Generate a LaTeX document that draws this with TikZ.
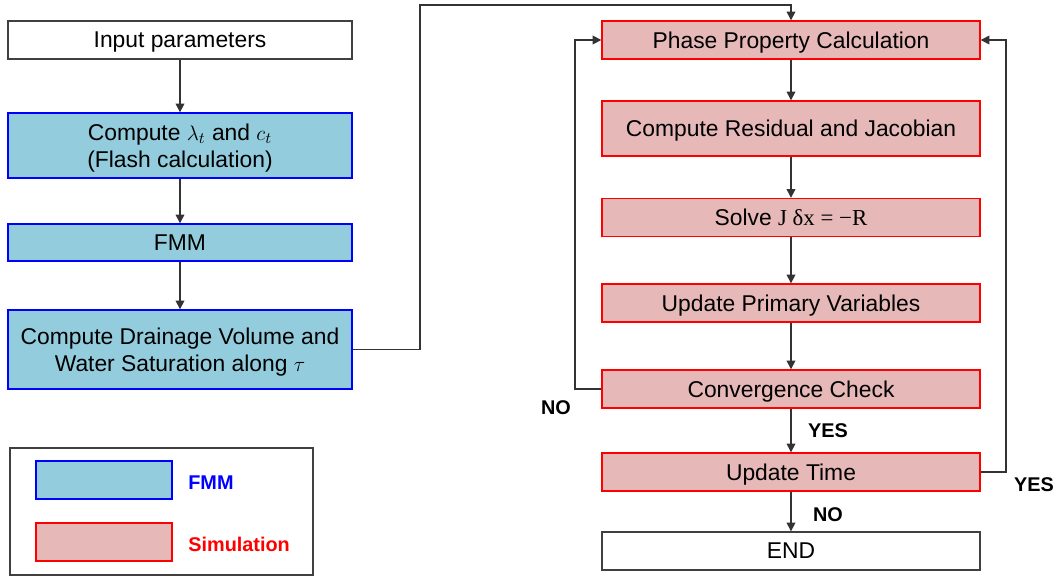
\documentclass[tikz,border=0pt]{standalone}
\usepackage{fontspec}
\setmainfont{Liberation Sans}
\newfontfamily\eqfont{Liberation Serif}
\usepackage{xcolor}
\usepackage{tikz}
\usetikzlibrary{arrows.meta}
\definecolor{fmmfill}{HTML}{93CDDD}
\definecolor{simfill}{HTML}{E6B9B8}
\tikzstyle{every node}=[font=\fontsize{13}{15.5}\selectfont,inner sep=0pt]
\tikzstyle{fmmbox}=[draw=blue,fill=fmmfill,thick,minimum width=6.88cm,align=center,text depth=0pt]
\tikzstyle{simbox}=[draw=red,fill=simfill,thick,minimum width=7.56cm,minimum height=0.76cm,align=center,text depth=0pt]
\tikzstyle{plainbox}=[draw=black!75,thick,fill=white,align=center,text depth=0pt]
\tikzstyle{flow}=[draw=black!80,thick,-{Triangle[length=5pt,width=5pt]}]
\tikzstyle{answer}=[font=\fontsize{11.3}{13}\selectfont\bfseries]

\begin{document}
\begin{tikzpicture}[x=0.02cm,y=-0.02cm]
	\useasboundingbox (0,0) rectangle (1058,579);
	% left column: FMM part
	\node[plainbox,minimum width=6.88cm,minimum height=0.76cm] (input) at (180,40) {Input parameters};
	\node[fmmbox,minimum height=1.3cm] (flash) at (180,145.5) {Compute $\lambda_t$ and $c_t$\\(Flash calculation)};
	\node[fmmbox,minimum height=0.74cm] (fmm) at (180,242.5) {FMM};
	\node[fmmbox,minimum height=1.58cm] (drain) at (180,349.5) {Compute Drainage Volume and\\Water Saturation along $\tau$};
	% right column: simulation loop
	\node[simbox] (phase) at (791,40) {Phase Property Calculation};
	\node[simbox,minimum height=1.1cm] (resid) at (791,128.5) {Compute Residual and Jacobian};
	\node[simbox] (solve) at (791,217.5) {Solve {\eqfont J δx = −R}};
	\node[simbox] (update) at (791,303) {Update Primary Variables};
	\node[simbox] (conv) at (791,389) {Convergence Check};
	\node[simbox] (time) at (791,472) {Update Time};
	\node[plainbox,minimum width=7.56cm,minimum height=0.76cm] (end) at (791,551) {END};
	% connectors
	\draw[flow] (input) -- (flash);
	\draw[flow] (flash) -- (fmm);
	\draw[flow] (fmm) -- (drain);
	\draw[flow] (drain.east) -- (420,349.5) -- (420,5) -| (phase.north);
	\draw[flow] (phase) -- (resid);
	\draw[flow] (resid) -- (solve);
	\draw[flow] (solve) -- (update);
	\draw[flow] (update) -- (conv);
	\draw[flow] (conv.west) -- (575,389) |- (phase.west);
	\draw[flow] (conv) -- (time);
	\draw[flow] (time.east) -- (1006,472) |- (phase.east);
	\draw[flow] (time) -- (end);
	\node[answer] (no1) at (556,408) {NO};
	\node[answer] (yes1) at (828,431) {YES};
	\node[answer] (yes2) at (1034,485) {YES};
	\node[answer] (no2) at (828,515) {NO};
	% legend
	\node[draw=black!75,thick,minimum width=6.06cm,minimum height=2.54cm] (legend) at (161.5,511.5) {};
	\node[draw=blue,fill=fmmfill,thick,minimum width=2.72cm,minimum height=0.76cm] (keyfmm) at (104,480) {};
	\node[draw=red,fill=simfill,thick,minimum width=2.72cm,minimum height=0.76cm] (keysim) at (104,542) {};
	\node[answer,text=blue,anchor=west] (labfmm) at (188,483) {FMM};
	\node[answer,text=red,anchor=west] (labsim) at (188,544) {Simulation};
\end{tikzpicture}
\end{document}
